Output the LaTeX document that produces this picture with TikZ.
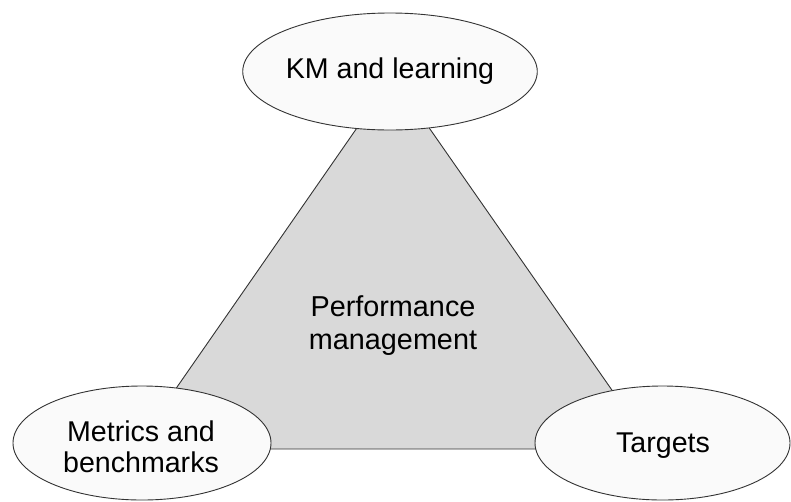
\documentclass[tikz,border=0pt]{standalone}
\usepackage{fontspec}
\setmainfont{Liberation Sans}
\usetikzlibrary{shapes.geometric}
\definecolor{ellfill}{HTML}{FAFAFA}
\definecolor{trifill}{HTML}{D9D9D9}
\definecolor{edge}{HTML}{333333}
\begin{document}
\begin{tikzpicture}[x=1pt,y=-1pt,
  bubble/.style={ellipse,draw=edge,fill=ellfill,line width=0.9pt,inner sep=0pt,
    minimum width=256pt,minimum height=115pt,align=center,
    font=\fontsize{28.6}{31}\selectfont},
  bubbletext/.style={align=center,font=\fontsize{28.6}{31}\selectfont},
  label/.style={align=center,font=\fontsize{28.8}{33}\selectfont}]
\useasboundingbox (0,0) rectangle (791,501);
\coordinate (ta) at (393,76);
\coordinate (tl) at (134,449);
\coordinate (tr) at (653,449);
\filldraw[fill=trifill,draw=edge,line width=0.9pt] (ta) -- (tl) -- (tr) -- cycle;
\node[label] (pm) at (393,326) {Performance\\management};
\node[bubble,minimum height=117pt] (km) at (390,71.5) {KM and learning};
\node[bubble,minimum width=258pt,minimum height=114pt] (mb) at (142,443) {};
\node[bubbletext] (mbtext) at (141,447) {Metrics and\\benchmarks};
\node[bubble,minimum width=255pt,minimum height=114pt] (tg) at (662.5,443) {};
\node[bubbletext] (tgtext) at (663,446) {Targets};
\end{tikzpicture}
\end{document}
